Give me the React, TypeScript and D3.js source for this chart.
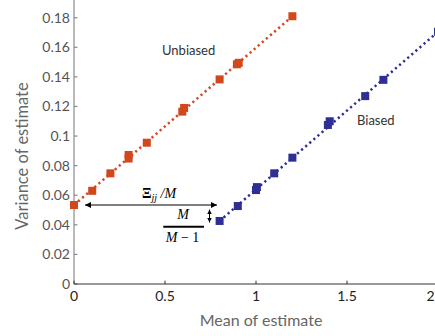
import React from "react";
import * as d3 from "d3";

const W = 435;
const H = 336;

const xTicks = [0, 0.5, 1, 1.5, 2];
const xTickLabels = ["0", "0.5", "1", "1.5", "2"];
const yTicks = [0, 0.02, 0.04, 0.06, 0.08, 0.1, 0.12, 0.14, 0.16, 0.18];
const yTickLabels = ["0", "0.02", "0.04", "0.06", "0.08", "0.1", "0.12", "0.14", "0.16", "0.18"];

const unbiasedX = [0, 0.1, 0.2, 0.3, 0.3, 0.4, 0.595, 0.605, 0.8, 0.895, 0.905, 1.2];
const unbiasedY = [0.0534, 0.063, 0.0748, 0.0848, 0.0872, 0.0955, 0.1165, 0.119, 0.1383, 0.1485, 0.1495, 0.181];
const unbiasedLineX = [0, 1.2];
const unbiasedLineY = [0.0534, 0.181];

const biasedX = [0.8, 0.9, 1.0, 1.005, 1.1, 1.2, 1.395, 1.405, 1.6, 1.7, 2.0];
const biasedY = [0.0426, 0.0527, 0.0635, 0.0655, 0.0748, 0.0854, 0.1075, 0.110, 0.127, 0.138, 0.1705];
const biasedLineX = [0.8, 2.0];
const biasedLineY = [0.0426, 0.1705];

const ORANGE = "#D2481D";
const BLUE = "#2E2F94";

export default function App() {
  const x = d3.scaleLinear().domain([0, 2]).range([74, 438]);
  const y = d3.scaleLinear().domain([0, 0.18]).range([284, 17.7]);
  const line = d3
    .line<[number, number]>()
    .x((d) => x(d[0]))
    .y((d) => y(d[1]));

  const uLine = unbiasedLineX.map((v, i) => [v, unbiasedLineY[i]] as [number, number]);
  const bLine = biasedLineX.map((v, i) => [v, biasedLineY[i]] as [number, number]);
  const ms = 8;
  const sansFont = "Lato, 'Open Sans', sans-serif";
  const serif = "'Liberation Serif', 'DejaVu Serif', serif";

  return (
    <svg
      width={W}
      height={H}
      style={{ position: "absolute", left: 0, top: 0, background: "#fff" }}
    >
      <defs>
        <marker id="ah" viewBox="0 0 10 10" refX="10" refY="5" markerWidth="6" markerHeight="6" orient="auto-start-reverse" markerUnits="userSpaceOnUse">
          <path d="M0,0 L10,5 L0,10 z" fill="#000" />
        </marker>
        <marker id="ah2" viewBox="0 0 10 10" refX="10" refY="5" markerWidth="4.5" markerHeight="4.5" orient="auto-start-reverse" markerUnits="userSpaceOnUse">
          <path d="M0,0 L10,5 L0,10 z" fill="#000" />
        </marker>
      </defs>

      {/* Y axis */}
      <line x1={74} x2={74} y1={284} y2={0} stroke="#8a8a8a" strokeWidth={1.2} />
      {yTicks.map((t, i) => (
        <g key={"yt" + i}>
          <line x1={74} x2={77.5} y1={y(t)} y2={y(t)} stroke="#8a8a8a" strokeWidth={1.2} />
          <text
            x={70}
            y={y(t)}
            dy="0.35em"
            textAnchor="end"
            fontFamily={sansFont}
            fontSize={14}
            fill="#555"
          >
            {yTickLabels[i]}
          </text>
        </g>
      ))}

      {/* X axis */}
      <line x1={74} x2={W} y1={284} y2={284} stroke="#333" strokeWidth={1} />
      {xTicks.map((t, i) => (
        <g key={"xt" + i}>
          <line x1={x(t)} x2={x(t)} y1={284} y2={280.7} stroke="#333" strokeWidth={1} />
          <text
            x={Math.min(x(t), W - 4.5)}
            y={301}
            textAnchor="middle"
            fontFamily={sansFont}
            fontSize={14}
            fill="#222"
          >
            {xTickLabels[i]}
          </text>
        </g>
      ))}

      {/* Axis titles */}
      <text x={261} y={326} textAnchor="middle" fontFamily={sansFont} fontSize={16} fill="#666">
        Mean of estimate
      </text>
      <text
        transform="translate(28,156) rotate(-90)"
        textAnchor="middle"
        fontFamily={sansFont}
        fontSize={16.5}
        fill="#666"
      >
        Variance of estimate
      </text>

      {/* Dotted lines */}
      <path d={line(uLine) || ""} fill="none" stroke={ORANGE} strokeWidth={2.5} strokeDasharray="2.2 3.2" />
      <path d={line(bLine) || ""} fill="none" stroke={BLUE} strokeWidth={2.5} strokeDasharray="2.2 3.2" />

      {/* Markers */}
      {unbiasedX.map((v, i) => (
        <rect key={"u" + i} x={x(v) - ms / 2} y={y(unbiasedY[i]) - ms / 2} width={ms} height={ms} fill={ORANGE} />
      ))}
      {biasedX.map((v, i) => (
        <rect key={"b" + i} x={x(v) - ms / 2} y={y(biasedY[i]) - ms / 2} width={ms} height={ms} fill={BLUE} />
      ))}

      {/* Series labels */}
      <text x={162} y={55} fontFamily={sansFont} fontSize={13} fill="#333">
        Unbiased
      </text>
      <text x={357} y={125} fontFamily={sansFont} fontSize={13} fill="#333">
        Biased
      </text>

      {/* Horizontal double arrow */}
      <line x1={85} x2={217} y1={205} y2={205} stroke="#000" strokeWidth={1} markerStart="url(#ah)" markerEnd="url(#ah)" />
      <text x={142} y={197.5} fontFamily={serif} fontSize={14} fill="#000">
        <tspan fontWeight="bold">Ξ</tspan>
        <tspan fontStyle="italic" fontSize={10} dy={3}>jj</tspan>
        <tspan fontStyle="italic" dy={-3}>{" /M"}</tspan>
      </text>

      {/* Vertical double arrow */}
      <line x1={209.5} x2={209.5} y1={209.5} y2={222.5} stroke="#000" strokeWidth={1} markerStart="url(#ah2)" markerEnd="url(#ah2)" />

      {/* Fraction */}
      <text x={183} y={219.3} textAnchor="middle" fontFamily={serif} fontStyle="italic" fontSize={14} fill="#000">
        M
      </text>
      <line x1={163.3} x2={204} y1={226.7} y2={226.7} stroke="#000" strokeWidth={2} />
      <text x={182.5} y={241.7} textAnchor="middle" fontFamily={serif} fontSize={14} fill="#000">
        <tspan fontStyle="italic">M</tspan>
        <tspan>{" − 1"}</tspan>
      </text>
    </svg>
  );
}
